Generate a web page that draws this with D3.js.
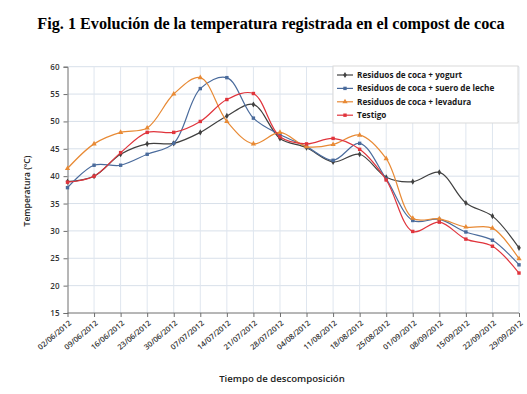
<!DOCTYPE html>
<html>
<head>
<meta charset="utf-8">
<script src="https://cdn.jsdelivr.net/npm/d3@7"></script>
<style>
html,body{margin:0;padding:0;background:#fff;}
svg{display:block;}
</style>
</head>
<body>
<svg id="chart" width="527" height="394"></svg>
<script>
const dates = ["02/06/2012","09/06/2012","16/06/2012","23/06/2012","30/06/2012","07/07/2012","14/07/2012","21/07/2012","28/07/2012","04/08/2012","11/08/2012","18/08/2012","25/08/2012","01/09/2012","08/09/2012","15/09/2012","22/09/2012","29/09/2012"];
const yogurt   = [39.0,40.0,44.0,45.9,46.0,48.0,51.0,53.1,46.9,45.2,42.6,44.0,39.8,39.0,40.7,35.1,32.7,26.9];
const suero    = [37.9,42.0,42.0,44.0,46.0,56.0,58.0,50.6,47.6,45.4,42.9,46.0,39.5,31.9,32.1,29.8,28.3,23.8];
const levadura = [41.4,45.9,48.0,48.8,55.0,58.0,50.0,45.9,48.0,45.4,45.8,47.5,43.2,32.3,32.2,30.7,30.5,24.9];
const testigo  = [38.9,40.0,44.3,48.0,48.0,50.0,54.0,55.1,47.2,45.9,46.9,44.9,39.3,29.9,31.6,28.5,27.2,22.3];
const seriesNames = ["Residuos de coca + yogurt","Residuos de coca + suero de leche","Residuos de coca + levadura","Testigo"];
const yTicks = [15,20,25,30,35,40,45,50,55,60];

const series = [
  {name: seriesNames[0], values: yogurt,   color: "#404040", marker: "diamond"},
  {name: seriesNames[1], values: suero,    color: "#4a6b9c", marker: "square"},
  {name: seriesNames[2], values: levadura, color: "#e88a35", marker: "triangle"},
  {name: seriesNames[3], values: testigo,  color: "#e0343c", marker: "square"}
];

const svg = d3.select("#chart");
const font = "'Open Sans', sans-serif";

const x = d3.scalePoint().domain(dates).range([67.5, 519]);
const y = d3.scaleLinear().domain([15, 60]).range([313, 66.7]);

// title
svg.append("text").attr("x", 271).attr("y", 29).attr("text-anchor", "middle")
  .attr("font-family", "'Liberation Serif', 'Times New Roman', serif")
  .attr("font-weight", "bold").attr("font-size", 16.2).attr("fill", "#000")
  .text("Fig. 1 Evolución de la temperatura registrada en el compost de coca");

// grid
const grid = svg.append("g");
grid.selectAll("line.h").data(yTicks.filter(d => d > 15)).enter().append("line")
  .attr("x1", 67.5).attr("x2", 519).attr("y1", d => y(d)).attr("y2", d => y(d))
  .attr("stroke", "#d8e0ea").attr("stroke-width", 1);
grid.selectAll("line.v").data(dates.slice(1)).enter().append("line")
  .attr("x1", d => x(d)).attr("x2", d => x(d)).attr("y1", 66.7).attr("y2", 313)
  .attr("stroke", "#dfe6ef").attr("stroke-width", 1);

// y axis
const yAxis = svg.append("g").attr("transform", "translate(67.5,0)")
  .call(d3.axisLeft(y).tickValues(yTicks).tickSize(4).tickPadding(4));
yAxis.select(".domain").attr("stroke", "#6e6e6e");
yAxis.selectAll(".tick line").attr("stroke", "#6e6e6e");
yAxis.selectAll("text").attr("font-family", font).attr("font-size", 8).attr("font-weight", 600).attr("fill", "#333");

// x axis
const xAxis = svg.append("g").attr("transform", "translate(0,313)")
  .call(d3.axisBottom(x).tickSize(4).tickPadding(3));
xAxis.select(".domain").attr("stroke", "#6e6e6e").attr("d", "M67.5,0H519");
xAxis.selectAll(".tick line").attr("stroke", "#6e6e6e");
xAxis.selectAll("text").attr("font-family", font).attr("font-size", 7.6).attr("font-weight", 600).attr("fill", "#333")
  .attr("text-anchor", "end").attr("x", 0).attr("y", 0).attr("dy", "0.35em")
  .attr("transform", "translate(2,9) rotate(-40)");

// axis titles
svg.append("text").attr("transform", "translate(30,191) rotate(-90)").attr("text-anchor", "middle")
  .attr("font-family", font).attr("font-weight", 600).attr("font-size", 8.6).attr("fill", "#222")
  .text("Temperatura (ºC)");
svg.append("text").attr("x", 282).attr("y", 382).attr("text-anchor", "middle")
  .attr("font-family", font).attr("font-weight", 600).attr("font-size", 9.6).attr("fill", "#222")
  .text("Tiempo de descomposición");

// lines
const line = d3.line().x((d, i) => x(dates[i])).y(d => y(d)).curve(d3.curveCatmullRom.alpha(0.5));

function drawMarker(g, type, cx, cy, color) {
  if (type === "square") {
    g.append("rect").attr("x", cx - 1.7).attr("y", cy - 1.7).attr("width", 3.4).attr("height", 3.4).attr("fill", color);
  } else if (type === "triangle") {
    g.append("path").attr("d", d3.symbol().type(d3.symbolTriangle).size(12)()).attr("transform", `translate(${cx},${cy})`).attr("fill", color);
  } else {
    g.append("path").attr("d", d3.symbol().type(d3.symbolDiamond).size(11)()).attr("transform", `translate(${cx},${cy})`).attr("fill", color);
  }
}

series.forEach(s => {
  const g = svg.append("g");
  g.append("path").attr("d", line(s.values)).attr("fill", "none").attr("stroke", s.color).attr("stroke-width", 1.2);
  s.values.forEach((v, i) => drawMarker(g, s.marker, x(dates[i]), y(v), s.color));
});

// legend
const lg = svg.append("g");
lg.append("rect").attr("x", 333).attr("y", 66).attr("width", 185).attr("height", 57)
  .attr("fill", "#fff").attr("stroke", "#d9d9d9");
series.forEach((s, i) => {
  const ly = 75 + i * 13.4;
  lg.append("line").attr("x1", 337).attr("x2", 353).attr("y1", ly).attr("y2", ly).attr("stroke", s.color).attr("stroke-width", 1.2);
  drawMarker(lg, s.marker, 345, ly, s.color);
  lg.append("text").attr("x", 357).attr("y", ly).attr("dy", "0.35em")
    .attr("font-family", font).attr("font-weight", 700).attr("font-size", 8.2).attr("fill", "#1a1a1a")
    .text(s.name);
});
</script>
</body>
</html>
